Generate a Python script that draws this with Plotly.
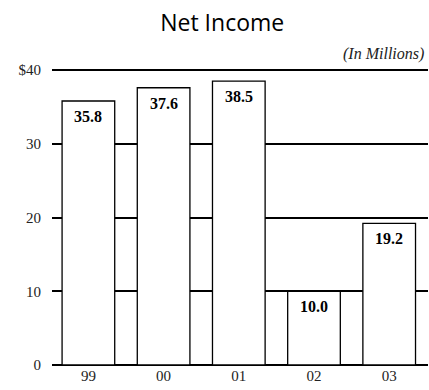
import plotly.graph_objects as go

# Net income by fiscal year, in millions of dollars
years = ["99", "00", "01", "02", "03"]
net_income = [35.8, 37.6, 38.5, 10.0, 19.2]
y_ticks = [0, 10, 20, 30, 40]
y_tick_labels = ["0", "10", "20", "30", "$40"]

serif = "Liberation Serif, Times New Roman, serif"

fig = go.Figure()
fig.add_trace(go.Bar(
    x=years,
    y=net_income,
    width=0.7,
    marker=dict(color="white", line=dict(color="black", width=1.3)),
    hoverinfo="skip",
))

# value labels sitting just inside the top of each bar
for i, v in enumerate(net_income):
    fig.add_annotation(
        x=i, y=v, xref="x", yref="y",
        text=f"<b>{v:.1f}</b>", showarrow=False,
        yanchor="top", yshift=-5,
        font=dict(family=serif, size=16, color="black"),
    )

fig.add_annotation(
    x=1, y=1, xref="paper", yref="paper",
    xanchor="right", yanchor="middle", xshift=-2, yshift=15,
    text="<i>(In Millions)</i>", showarrow=False,
    font=dict(family=serif, size=16, color="#222"),
)

fig.update_layout(
    width=429, height=390,
    margin=dict(l=52, r=1, t=69, b=25),
    paper_bgcolor="white", plot_bgcolor="white",
    showlegend=False,
    title=dict(
        text="Net Income", x=0.518, xanchor="center", y=0.942, yanchor="middle",
        font=dict(family="Open Sans, sans-serif", size=23, color="black"),
    ),
    xaxis=dict(
        type="category",
        range=[-0.484, 4.516], showgrid=False, showline=False, ticks="",
        tickfont=dict(family=serif, size=15, color="#222"),
    ),
    yaxis=dict(
        range=[0, 40.14], tickvals=y_ticks, ticktext=y_tick_labels,
        showgrid=True, gridcolor="black", gridwidth=1.5,
        zeroline=True, zerolinecolor="black", zerolinewidth=1.8,
        showline=False, ticks="", ticklabelstandoff=10,
        tickfont=dict(family=serif, size=15, color="#222"),
    ),
)

fig.write_html("out.html")
